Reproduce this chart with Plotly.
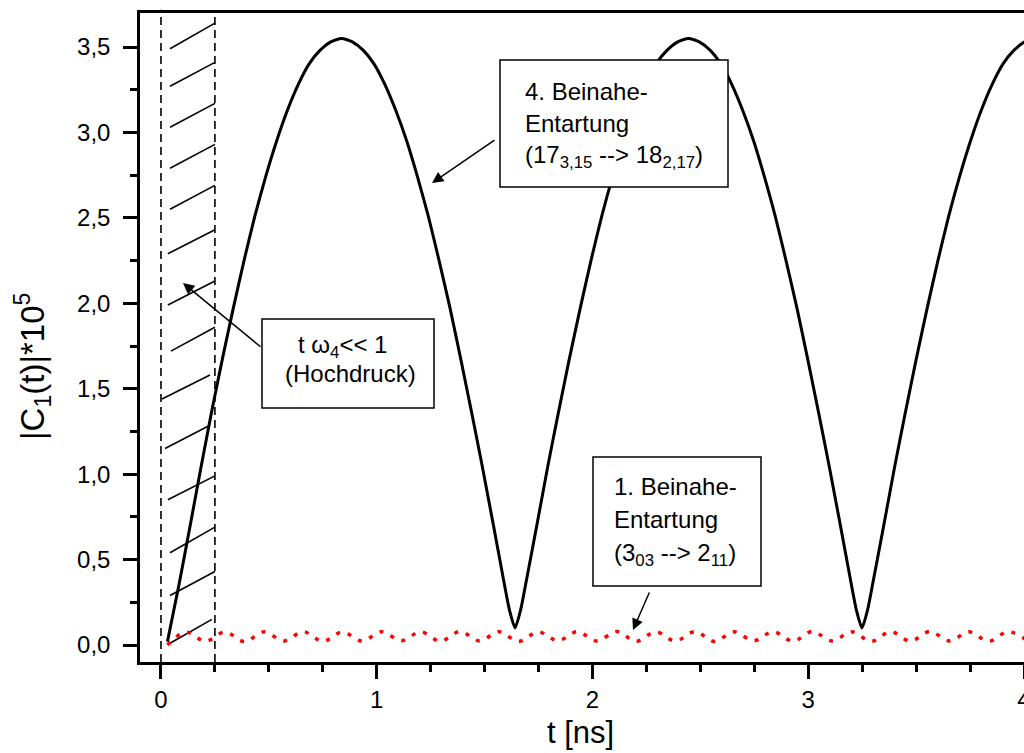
import plotly.graph_objects as go

# ---------------- data ----------------
# |C1(t)|*1e5 for the 4th near-degeneracy (black solid curve)
t_black = [0.030, 0.083, 0.134, 0.184, 0.234, 0.284, 0.335, 0.385, 0.435, 0.485,
           0.536, 0.586, 0.636, 0.686, 0.737, 0.787, 0.837, 0.887, 0.938, 0.988,
           1.038, 1.088, 1.139, 1.189, 1.239, 1.289, 1.340, 1.390, 1.440, 1.490,
           1.541, 1.591, 1.616, 1.641, 1.666, 1.691, 1.742, 1.792, 1.842, 1.892,
           1.943, 1.993, 2.043, 2.093, 2.144, 2.194, 2.244, 2.294, 2.345, 2.395,
           2.445, 2.495, 2.546, 2.596, 2.646, 2.696, 2.747, 2.797, 2.847, 2.897,
           2.948, 2.998, 3.048, 3.098, 3.149, 3.199, 3.224, 3.249, 3.274, 3.299,
           3.350, 3.400, 3.450, 3.500, 3.551, 3.601, 3.651, 3.701, 3.752, 3.802,
           3.852, 3.902, 3.953, 4.003, 4.053]
c_black = [0.02, 0.35, 0.69, 1.03, 1.36, 1.67, 1.97, 2.25, 2.51, 2.74,
           2.95, 3.13, 3.28, 3.40, 3.48, 3.53, 3.55, 3.53, 3.48, 3.40,
           3.28, 3.13, 2.95, 2.74, 2.51, 2.25, 1.97, 1.67, 1.36, 1.04,
           0.70, 0.36, 0.20, 0.10, 0.20, 0.36, 0.70, 1.04, 1.36, 1.67,
           1.97, 2.25, 2.51, 2.74, 2.95, 3.13, 3.28, 3.40, 3.48, 3.53,
           3.55, 3.53, 3.48, 3.40, 3.28, 3.13, 2.95, 2.74, 2.51, 2.25,
           1.97, 1.67, 1.36, 1.04, 0.70, 0.36, 0.20, 0.10, 0.20, 0.36,
           0.70, 1.04, 1.36, 1.67, 1.97, 2.25, 2.51, 2.74, 2.95, 3.13,
           3.28, 3.40, 3.48, 3.53, 3.55]

# |C1(t)|*1e5 for the 1st near-degeneracy (red dotted curve)
t_red = [0.030, 0.115, 0.206, 0.297, 0.388, 0.478, 0.569, 0.660, 0.751, 0.841,
         0.932, 1.023, 1.114, 1.204, 1.295, 1.386, 1.477, 1.567, 1.658, 1.749,
         1.840, 1.930, 2.021, 2.112, 2.203, 2.293, 2.384, 2.475, 2.566, 2.656,
         2.747, 2.838, 2.929, 3.019, 3.110, 3.201, 3.292, 3.382, 3.473, 3.564,
         3.655, 3.745, 3.836, 3.927, 4.018]
c_red = [0.000, 0.075, 0.022, 0.076, 0.020, 0.077, 0.024, 0.078, 0.021, 0.076,
         0.023, 0.078, 0.025, 0.077, 0.022, 0.079, 0.024, 0.078, 0.021, 0.077,
         0.025, 0.078, 0.023, 0.079, 0.022, 0.077, 0.024, 0.078, 0.021, 0.077,
         0.025, 0.078, 0.022, 0.079, 0.024, 0.077, 0.021, 0.078, 0.023, 0.079,
         0.024, 0.077, 0.022, 0.078, 0.023]

# axis ticks
x_tickvals = [0, 1, 2, 3, 4]
x_ticktext = ["0", "1", "2", "3", "4"]
y_tickvals = [0.0, 0.5, 1.0, 1.5, 2.0, 2.5, 3.0, 3.5]
y_ticktext = ["0,0", "0,5", "1,0", "1,5", "2,0", "2,5", "3,0", "3,5"]

# hatched high-pressure region (t*omega4 << 1): segment end points
hatch_x_left = [0.042, 0.042, 0.042, 0.032, 0.019, 0.005, 0.046, 0.032, 0.032, 0.042,
                0.042, 0.042, 0.042, 0.042]
hatch_y_left = [0.01, 0.29, 0.54, 0.85, 1.15, 1.44, 1.72, 1.99, 2.29, 2.55,
                2.79, 3.03, 3.27, 3.49]
hatch_x_right = [0.236, 0.25, 0.25, 0.25, 0.218, 0.227, 0.25, 0.25, 0.25, 0.25,
                 0.25, 0.25, 0.25, 0.25]
hatch_y_right = [0.15, 0.43, 0.69, 0.99, 1.28, 1.58, 1.86, 2.13, 2.43, 2.69,
                 2.93, 3.17, 3.41, 3.64]
region_bounds_t = [0.0, 0.25]

# ---------------- layout geometry ----------------
W, H = 1024, 753
ML, MR, MT, MB = 140, 0, 13, 91
XR = [-0.0972, 4.0]
YR = [-0.0995, 3.699]
PX0, PX1 = ML, W - MR
PY0, PY1 = MT, H - MB


def dx(px):
    return XR[0] + (px - PX0) / (PX1 - PX0) * (XR[1] - XR[0])


def dy(py):
    return YR[1] - (py - PY0) / (PY1 - PY0) * (YR[1] - YR[0])


FONT = "Liberation Sans, Arial, Helvetica, sans-serif"
FS = 24

fig = go.Figure()
fig.add_trace(go.Scatter(x=t_black, y=c_black, mode="lines",
                         line=dict(color="black", width=3, shape="spline", smoothing=0.6),
                         showlegend=False, hoverinfo="skip"))
fig.add_trace(go.Scatter(x=t_red, y=c_red, mode="lines",
                         line=dict(color="#ff0000", width=3.5, dash="4px,8px",
                                   shape="spline", smoothing=1),
                         showlegend=False, hoverinfo="skip"))

shapes = []
# vertical dashed boundaries
for i, t in enumerate(region_bounds_t):
    shapes.append(dict(type="line", xref="x", yref="paper", x0=t, x1=t,
                       y0=0, y1=1.005 if i == 0 else 1.0,
                       line=dict(color="black", width=1.6, dash="8px,5px"),
                       layer="below"))
# hatch lines
for xl, yl, xr, yr in zip(hatch_x_left, hatch_y_left, hatch_x_right, hatch_y_right):
    shapes.append(dict(type="line", xref="x", yref="y", x0=xl, y0=yl, x1=xr, y1=yr,
                       line=dict(color="black", width=1.6), layer="below"))

# annotation boxes (pixel rectangles)
boxes = [(500, 60, 728, 187), (262, 319, 434, 408), (593, 457, 761, 586)]
for (x0, y0, x1, y1) in boxes:
    shapes.append(dict(type="rect", xref="x", yref="y", x0=dx(x0), x1=dx(x1),
                       y0=dy(y0), y1=dy(y1), fillcolor="white",
                       line=dict(color="black", width=1.5), layer="above"))

annotations = []
lines = [
    ("4. Beinahe-", 523, 100, "left"),
    ("Entartung", 523, 132, "left"),
    ("(17<sub>3,15</sub> --&gt; 18<sub>2,17</sub>)", 523, 165, "left"),
    ("t ω<sub>4</sub>&lt;&lt; 1", 342, 355, "center"),
    ("(Hochdruck)", 350, 382, "center"),
    ("1. Beinahe-", 612, 495, "left"),
    ("Entartung", 612, 528, "left"),
    ("(3<sub>03</sub> --&gt; 2<sub>11</sub>)", 612, 563, "left"),
]
for txt, px, base, anc in lines:
    annotations.append(dict(text=txt, x=dx(px), y=dy(base - 0.35 * FS), xref="x", yref="y",
                            xanchor=anc, yanchor="middle", showarrow=False,
                            font=dict(family=FONT, size=FS, color="black")))

arrows = [((432, 183), (496, 139)), ((183, 283), (262, 348)), ((633, 630), (650, 591))]
for (hx, hy), (tx, ty) in arrows:
    annotations.append(dict(text="", x=dx(hx), y=dy(hy), ax=dx(tx), ay=dy(ty),
                            xref="x", yref="y", axref="x", ayref="y", showarrow=True,
                            arrowhead=2, arrowsize=1.5, arrowwidth=1.5,
                            arrowcolor="black", standoff=0, startstandoff=0))

# axis titles
annotations.append(dict(text="t [ns]", xref="paper", yref="paper",
                        x=(580 - PX0) / (PX1 - PX0), y=(PY1 - 733) / (PY1 - PY0),
                        xanchor="center", yanchor="middle", showarrow=False,
                        font=dict(family=FONT, size=31, color="black")))
annotations.append(dict(text="|C<sub>1</sub>(t)|*10<sup>5</sup>", xref="paper", yref="paper",
                        x=(32 - PX0) / (PX1 - PX0), y=(PY1 - 367) / (PY1 - PY0),
                        xanchor="center", yanchor="middle", showarrow=False, textangle=-90,
                        font=dict(family=FONT, size=33, color="black")))

axis_common = dict(showline=True, linewidth=2.5, linecolor="black", mirror=True,
                   ticks="outside", ticklen=14, tickwidth=2.5, tickcolor="black",
                   showgrid=False, zeroline=False, automargin=False,
                   tickfont=dict(family=FONT, size=FS, color="black"),
                   minor=dict(ticks="outside", ticklen=7, tickwidth=2.5, tickcolor="black",
                              dtick=0.25, tick0=0, showgrid=False))

fig.update_layout(
    width=W, height=H, autosize=False,
    margin=dict(l=ML, r=MR, t=MT, b=MB, pad=0),
    paper_bgcolor="white", plot_bgcolor="white",
    font=dict(family=FONT, color="black"),
    xaxis=dict(range=XR, tickmode="array", tickvals=x_tickvals, ticktext=x_ticktext,
               ticklabeloverflow="allow", ticklabelstandoff=0, **axis_common),
    yaxis=dict(range=YR, tickmode="array", tickvals=y_tickvals, ticktext=y_ticktext,
               ticklabelstandoff=8, **axis_common),
    shapes=shapes, annotations=annotations,
)

fig.write_html("out.html")
